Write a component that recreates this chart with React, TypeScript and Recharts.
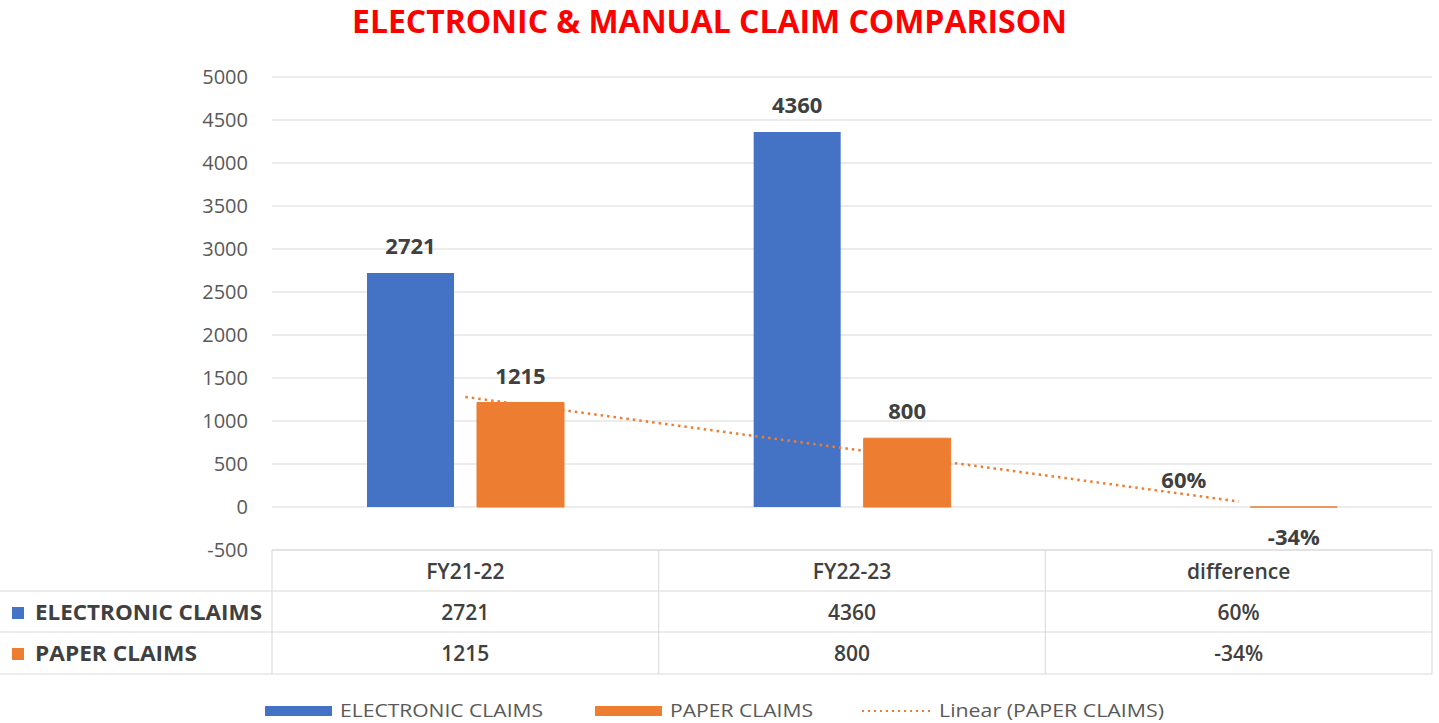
import { Bar, CartesianGrid, ComposedChart, LabelList, Line, XAxis, YAxis } from "recharts";

const CATEGORIES = ["FY21-22", "FY22-23", "difference"];
const ELECTRONIC = [2721, 4360, 0.6];
const PAPER = [1215, 800, -0.34];
const ELECTRONIC_TEXT = ["2721", "4360", "60%"];
const PAPER_TEXT = ["1215", "800", "-34%"];
const PAPER_TREND = [1280, 672, 64];
const Y_TICKS = [-500, 0, 500, 1000, 1500, 2000, 2500, 3000, 3500, 4000, 4500, 5000];

const BLUE = "#4472C4";
const ORANGE = "#ED7D31";
const TEXT = "#404040";
const GRID = "#d9d9d9";
const FONT = "'Open Sans', sans-serif";

const W = 1439;
const H = 723;
const PLOT_LEFT = 272;
const PLOT_RIGHT = 1432;
const Y_AXIS_W = 80;
const X_AXIS_H = 127;
const CELL_W = (PLOT_RIGHT - PLOT_LEFT) / CATEGORIES.length;

const data = CATEGORIES.map((cat, i) => ({
  cat,
  electronic: ELECTRONIC[i],
  paper: PAPER[i],
  trend: PAPER_TREND[i],
}));

function barLabel(texts: string[], values: number[]) {
  return (props: any) => {
    const { x, y, width, height, value } = props;
    const idx = props.index ?? values.indexOf(value);
    const top = Math.min(y, y + height);
    const bottom = Math.max(y, y + height);
    const ty = value < 0 ? bottom + 38 : top - 19;
    return (
      <text x={x + width / 2} y={ty} textAnchor="middle" fontFamily={FONT} fontSize={22} fontWeight={700} fill={TEXT}>
        {texts[idx]}
      </text>
    );
  };
}

// data table under the plot, one column per category tick
function TableTick(props: any) {
  const { x, y, payload } = props;
  const i = props.index ?? payload.index ?? CATEGORIES.indexOf(payload.value);
  const left = x - CELL_W / 2;
  const right = x + CELL_W / 2;
  const rows = [y, y + 41, y + 82, y + 124];
  const cellText = { fontFamily: FONT, fontSize: 21, fontWeight: 600, fill: TEXT, textAnchor: "middle" as const };

  return (
    <g>
      {i === 0 && (
        <g>
          <line x1={left} x2={PLOT_RIGHT} y1={rows[0]} y2={rows[0]} stroke={GRID} />
          {rows.slice(1).map((ry) => (
            <line key={ry} x1={0} x2={PLOT_RIGHT} y1={ry} y2={ry} stroke={GRID} />
          ))}
          <line x1={left} x2={left} y1={rows[0]} y2={rows[3]} stroke={GRID} />
          <rect x={12} y={rows[1] + 16} width={12} height={12} fill={BLUE} />
          <text x={35} y={rows[1] + 29} fontFamily={FONT} fontSize={22} fontWeight={700} fill={TEXT} textLength={227} lengthAdjust="spacingAndGlyphs">
            ELECTRONIC CLAIMS
          </text>
          <rect x={12} y={rows[2] + 16} width={12} height={12} fill={ORANGE} />
          <text x={35} y={rows[2] + 29} fontFamily={FONT} fontSize={22} fontWeight={700} fill={TEXT} textLength={162} lengthAdjust="spacingAndGlyphs">
            PAPER CLAIMS
          </text>
        </g>
      )}
      <line x1={right} x2={right} y1={rows[0]} y2={rows[3]} stroke={GRID} />
      <text x={x} y={rows[0] + 29} {...cellText}>{payload.value}</text>
      <text x={x} y={rows[1] + 29} {...cellText}>{ELECTRONIC_TEXT[i]}</text>
      <text x={x} y={rows[2] + 29} {...cellText}>{PAPER_TEXT[i]}</text>
    </g>
  );
}

export default function App() {
  return (
    <div style={{ position: "absolute", left: 0, top: 0, width: W, height: H, background: "#fff" }}>
      <svg width={W} height={50} style={{ position: "absolute", left: 0, top: 0 }}>
        <text x={709.5} y={33} textAnchor="middle" fontFamily={FONT} fontSize={32} fontWeight={700} fill="#FF0000" textLength={715} lengthAdjust="spacingAndGlyphs">
          ELECTRONIC &amp; MANUAL CLAIM COMPARISON
        </text>
      </svg>

      <ComposedChart
        width={W}
        height={H}
        data={data}
        margin={{ top: 77, right: W - PLOT_RIGHT, left: PLOT_LEFT - Y_AXIS_W, bottom: H - 550 - X_AXIS_H }}
        barSize={87}
        barGap={23}
      >
        <CartesianGrid vertical={false} stroke={GRID} />
        <XAxis
          dataKey="cat"
          height={X_AXIS_H}
          axisLine={false}
          tickLine={false}
          tickSize={0}
          tickMargin={0}
          interval={0}
          tick={<TableTick />}
        />
        <YAxis
          width={Y_AXIS_W}
          domain={[-500, 5000]}
          ticks={Y_TICKS}
          axisLine={false}
          tickLine={false}
          tickSize={0}
          tickMargin={24}
          tick={{ fontFamily: FONT, fontSize: 20, fill: "#595959" }}
        />
        <Bar dataKey="electronic" name="ELECTRONIC CLAIMS" fill={BLUE} isAnimationActive={false}>
          <LabelList dataKey="electronic" content={barLabel(ELECTRONIC_TEXT, ELECTRONIC)} />
        </Bar>
        <Bar dataKey="paper" name="PAPER CLAIMS" fill={ORANGE} stroke={ORANGE} strokeWidth={1} isAnimationActive={false}>
          <LabelList dataKey="paper" content={barLabel(PAPER_TEXT, PAPER)} />
        </Bar>
        <Line
          dataKey="trend"
          name="Linear (PAPER CLAIMS)"
          type="linear"
          stroke={ORANGE}
          strokeWidth={2.5}
          strokeDasharray="2.5 4"
          dot={false}
          activeDot={false}
          isAnimationActive={false}
        />
      </ComposedChart>

      <svg width={W} height={33} style={{ position: "absolute", left: 0, top: 690 }}>
        <rect x={265} y={16} width={67} height={10} fill={BLUE} />
        <text x={340} y={27} fontFamily={FONT} fontSize={19} fill="#595959" textLength={203} lengthAdjust="spacingAndGlyphs">
          ELECTRONIC CLAIMS
        </text>
        <rect x={595} y={16} width={67} height={10} fill={ORANGE} />
        <text x={670} y={27} fontFamily={FONT} fontSize={19} fill="#595959" textLength={143} lengthAdjust="spacingAndGlyphs">
          PAPER CLAIMS
        </text>
        <line x1={862} x2={931} y1={21} y2={21} stroke={ORANGE} strokeWidth={2} strokeDasharray="2 4" />
        <text x={939} y={27} fontFamily={FONT} fontSize={19} fill="#595959" textLength={225} lengthAdjust="spacingAndGlyphs">
          Linear (PAPER CLAIMS)
        </text>
      </svg>
    </div>
  );
}
